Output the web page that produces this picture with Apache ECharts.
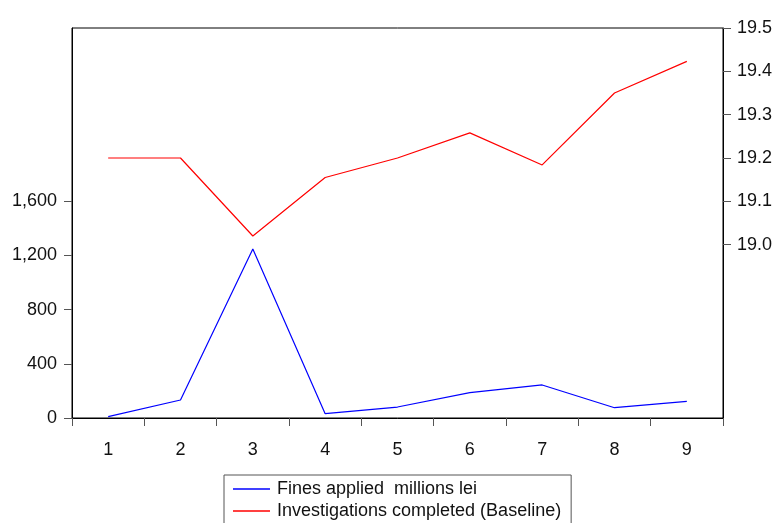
<!DOCTYPE html>
<html>
<head>
<meta charset="utf-8">
<script src="https://cdn.jsdelivr.net/npm/echarts@6/dist/echarts.min.js"></script>
<style>
html,body{margin:0;padding:0;background:#fff;}
#chart{width:776px;height:523px;}
</style>
</head>
<body>
<div id="chart"></div>
<script>
var categories = ['1','2','3','4','5','6','7','8','9'];
var fines = [10, 133, 1248, 32, 81, 188, 244, 76, 123];
var investigations = [19.2, 19.2, 19.02, 19.155, 19.2, 19.258, 19.184, 19.35, 19.423];
var leftTicks = [0, 400, 800, 1200, 1600];
var rightTicks = [19.0, 19.1, 19.2, 19.3, 19.4, 19.5];
var seriesNames = ['Fines applied  millions lei', 'Investigations completed (Baseline)'];

var FONT = '"Liberation Sans", Arial, sans-serif';
var LINE_ICON = 'path://M0,0 H37 V1.4 H0 Z';
var chart = echarts.init(document.getElementById('chart'), null, {renderer: 'canvas'});
chart.setOption({
  animation: false,
  backgroundColor: '#fff',
  grid: {left: 72, right: 53, top: 28, bottom: 105, show: true, borderColor: '#000', borderWidth: 1, backgroundColor: 'transparent'},
  legend: {
    orient: 'vertical',
    left: 224, top: 475,
    height: 60,
    padding: [5, 10, 12, 9],
    itemWidth: 37, itemHeight: 14, itemGap: 4,
    borderColor: '#555', borderWidth: 1,
    symbolKeepAspect: true,
    textStyle: {fontFamily: FONT, fontSize: 18, color: '#111', padding: [0, 0, 0, 2]},
    data: [
      {name: seriesNames[0], icon: LINE_ICON, itemStyle: {color: '#0000ff'}},
      {name: seriesNames[1], icon: LINE_ICON, itemStyle: {color: '#ff0000'}}
    ]
  },
  xAxis: {
    type: 'category',
    data: categories,
    boundaryGap: true,
    axisLine: {lineStyle: {color: '#000', width: 1}},
    axisTick: {show: true, length: 8, lineStyle: {color: '#555'}},
    axisLabel: {fontFamily: FONT, fontSize: 18, color: '#111', margin: 23},
    splitLine: {show: false}
  },
  yAxis: [{
    type: 'value',
    position: 'left',
    min: 0, max: 2880,
    axisLine: {show: true, lineStyle: {color: '#000'}},
    axisTick: {show: true, length: 8, customValues: leftTicks, lineStyle: {color: '#555'}},
    axisLabel: {fontFamily: FONT, fontSize: 18, color: '#111', margin: 15, customValues: leftTicks,
      formatter: function(v){ return v.toLocaleString('en-US'); }},
    splitLine: {show: false}
  }, {
    type: 'value',
    position: 'right',
    min: 18.6, max: 19.5,
    axisLine: {show: true, lineStyle: {color: '#000'}},
    axisTick: {show: true, length: 8, customValues: rightTicks, lineStyle: {color: '#555'}},
    axisLabel: {fontFamily: FONT, fontSize: 18, color: '#111', margin: 14, customValues: rightTicks,
      formatter: function(v){ return v.toFixed(1); }},
    splitLine: {show: false}
  }],
  series: [{
    name: seriesNames[0], type: 'line', yAxisIndex: 0,
    data: fines, symbol: 'none', lineStyle: {color: '#0000ff', width: 1.2}, itemStyle: {color: '#0000ff'}
  }, {
    name: seriesNames[1], type: 'line', yAxisIndex: 1,
    data: investigations, symbol: 'none', lineStyle: {color: '#ff0000', width: 1.2}, itemStyle: {color: '#ff0000'}
  }]
});
</script>
</body>
</html>
